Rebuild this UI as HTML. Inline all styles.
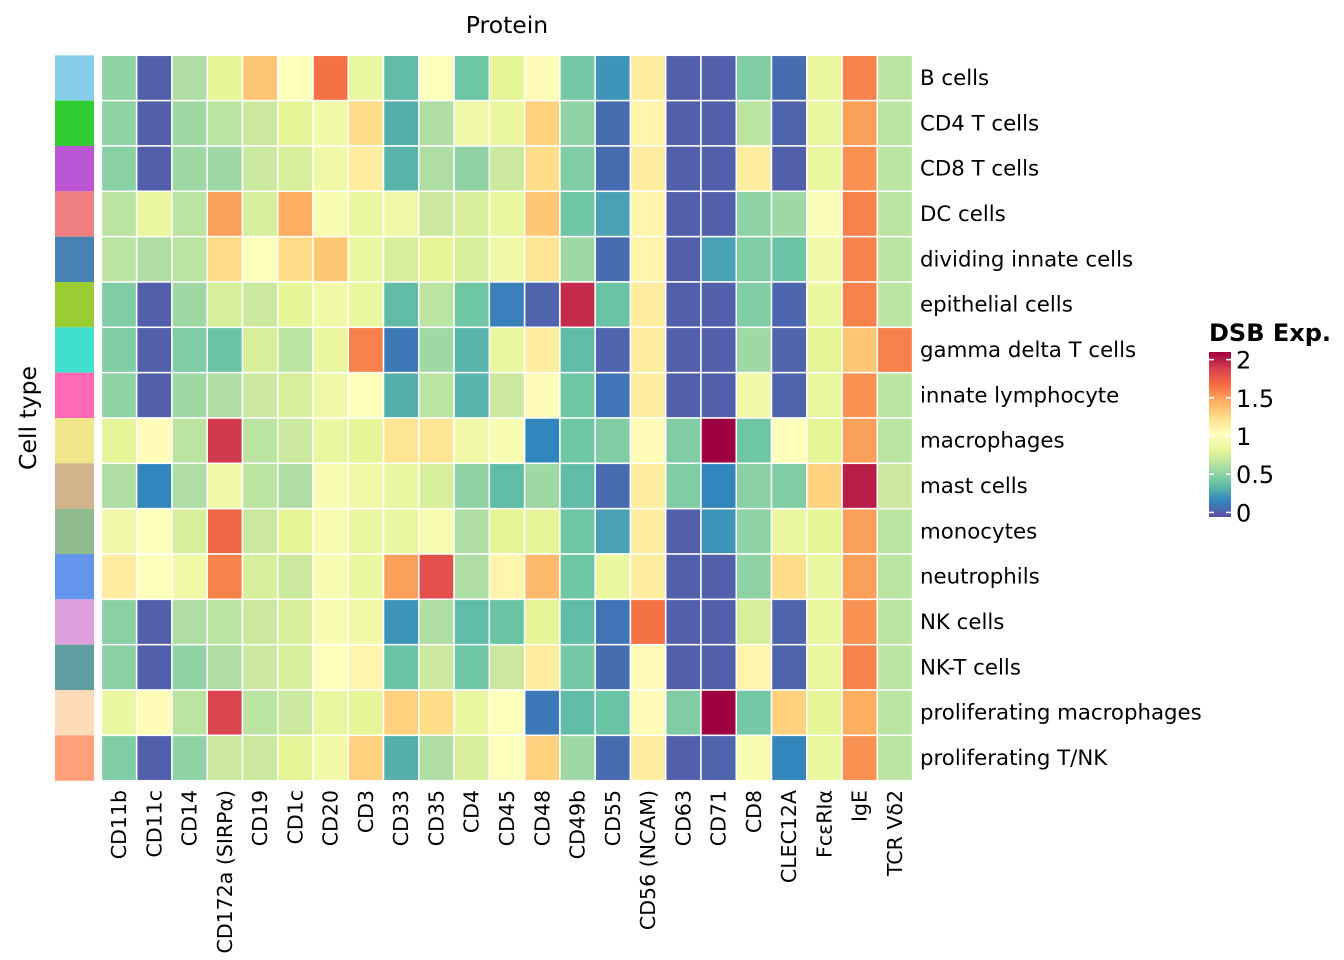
<!DOCTYPE html>
<html><head><meta charset="utf-8"><style>
html,body{margin:0;padding:0;background:#fff;}
svg{display:block;font-family:"DejaVu Sans","Liberation Sans",sans-serif;}
</style></head><body>
<svg id="chart" width="1344" height="960" viewBox="0 0 1344 960" xmlns="http://www.w3.org/2000/svg">
<defs><linearGradient id="grad" x1="0" y1="1" x2="0" y2="0"></linearGradient></defs>
<text x="507" y="33" font-size="23.5" text-anchor="middle">Protein</text>
<text transform="translate(36,418) rotate(-90)" font-size="23.5" text-anchor="middle">Cell type</text>
<g id="cells"></g>
<g id="strip"></g>
<g id="rowlabels"></g>
<g id="collabels"></g>
<g id="legend">
<text x="1209" y="341" font-size="24" font-weight="bold">DSB Exp.</text>
</g>
</svg>
<script>
const proteins=["CD11b","CD11c","CD14","CD172a (SIRPα)","CD19","CD1c","CD20","CD3","CD33","CD35","CD4","CD45","CD48","CD49b","CD55","CD56 (NCAM)","CD63","CD71","CD8","CLEC12A","FcεRIα","IgE","TCR Vδ2"];
const cellTypes=["B cells","CD4 T cells","CD8 T cells","DC cells","dividing innate cells","epithelial cells","gamma delta T cells","innate lymphocyte","macrophages","mast cells","monocytes","neutrophils","NK cells","NK-T cells","proliferating macrophages","proliferating T/NK"];
const typeColors=["#87CEEB","#32CD32","#BA55D3","#F08080","#4682B4","#9ACD32","#40E0D0","#FF69B4","#F0E68C","#D2B48C","#8FBC8F","#6495ED","#DDA0DD","#5F9EA0","#FFDAB9","#FFA07A"];
const values=[
[0.5,0,0.6,0.8,1.35,1.0,1.65,0.85,0.35,1.0,0.4,0.8,1.05,0.42,0.2,1.15,0,0,0.45,0.05,0.85,1.6,0.65],
[0.5,0,0.55,0.65,0.7,0.8,0.9,1.25,0.3,0.6,0.9,0.85,1.3,0.5,0.05,1.1,0,0,0.65,0.02,0.85,1.5,0.65],
[0.48,0,0.55,0.55,0.7,0.75,0.9,1.15,0.32,0.6,0.5,0.7,1.25,0.45,0.05,1.15,0,0,1.15,0,0.85,1.55,0.65],
[0.65,0.85,0.65,1.5,0.75,1.45,0.95,0.85,0.9,0.7,0.75,0.85,1.35,0.4,0.25,1.1,0,0,0.5,0.55,0.98,1.6,0.65],
[0.65,0.6,0.65,1.25,1.0,1.25,1.35,0.85,0.75,0.8,0.75,0.9,1.2,0.55,0.05,1.1,0,0.25,0.45,0.38,0.9,1.6,0.65],
[0.45,0,0.55,0.75,0.7,0.8,0.9,0.85,0.35,0.65,0.4,0.12,0.02,1.95,0.38,1.15,0,0,0.45,0.03,0.85,1.6,0.65],
[0.45,0,0.45,0.38,0.75,0.65,0.85,1.6,0.1,0.55,0.32,0.85,1.15,0.35,0.02,1.15,0,0,0.55,0.02,0.8,1.35,1.6],
[0.5,0,0.55,0.6,0.7,0.75,0.9,1.0,0.3,0.65,0.32,0.7,1.05,0.4,0.08,1.15,0,0,0.9,0.02,0.85,1.55,0.65],
[0.8,1.05,0.65,1.9,0.65,0.7,0.85,0.8,1.2,1.2,0.9,0.95,0.15,0.4,0.45,1.05,0.45,2.1,0.4,1.0,0.8,1.5,0.65],
[0.6,0.15,0.6,0.9,0.65,0.6,0.95,0.9,0.85,0.75,0.5,0.35,0.55,0.35,0.05,1.15,0.45,0.15,0.48,0.45,1.3,2.0,0.7],
[0.9,1.0,0.75,1.7,0.7,0.8,0.95,0.85,0.85,0.95,0.6,0.8,0.8,0.4,0.25,1.15,0,0.2,0.5,0.85,0.8,1.5,0.65],
[1.15,1.0,0.9,1.6,0.75,0.7,0.95,0.85,1.5,1.8,0.6,1.1,1.4,0.4,0.85,1.15,0,0,0.5,1.25,0.85,1.5,0.65],
[0.48,0,0.6,0.65,0.7,0.75,0.95,0.9,0.2,0.6,0.35,0.38,0.8,0.35,0.08,1.65,0,0,0.75,0.02,0.85,1.55,0.65],
[0.48,0,0.5,0.6,0.7,0.75,1.0,1.1,0.38,0.7,0.4,0.7,1.15,0.42,0.05,1.05,0,0,1.1,0.02,0.85,1.6,0.65],
[0.85,1.05,0.65,1.85,0.65,0.7,0.85,0.8,1.3,1.25,0.85,1.0,0.1,0.35,0.38,1.05,0.45,2.1,0.42,1.3,0.8,1.45,0.65],
[0.45,0,0.5,0.7,0.7,0.8,0.9,1.3,0.3,0.6,0.75,1.0,1.3,0.55,0.05,1.15,0,0.02,0.95,0.15,0.85,1.55,0.65]
];
const legendTicks=[0,0.5,1,1.5,2];
const legendTickLabels=["0","0.5","1","1.5","2"];

const NS="http://www.w3.org/2000/svg";
const spectral=["#5E4FA2","#3288BD","#66C2A5","#ABDDA4","#E6F598","#FFFFBF","#FEE08B","#FDAE61","#F46D43","#D53E4F","#9E0142"];
const vMin=-0.06, vMax=2.1;
function hex(c){return [parseInt(c.slice(1,3),16),parseInt(c.slice(3,5),16),parseInt(c.slice(5,7),16)];}
function color(v){let t=(v-vMin)/(vMax-vMin);t=Math.max(0,Math.min(1,t));const p=t*(spectral.length-1);const i=Math.min(Math.floor(p),spectral.length-2);const f=p-i;const a=hex(spectral[i]),b=hex(spectral[i+1]);return "rgb("+a.map((x,k)=>Math.round(x+(b[k]-x)*f)).join(",")+")";}
const x0=101.4,x1=912.6,y0=55.3,y1=780.7;
const cw=(x1-x0)/proteins.length, rh=(y1-y0)/cellTypes.length;
const xPos=j=>x0+j*cw, yPos=i=>y0+i*rh;
function mk(tag,attrs,parent){const e=document.createElementNS(NS,tag);for(const k in attrs)e.setAttribute(k,attrs[k]);parent.appendChild(e);return e;}
const cells=document.getElementById('cells');
values.forEach((row,i)=>row.forEach((v,j)=>{
  const r=mk('rect',{x:xPos(j),y:yPos(i),width:cw,height:rh,fill:color(v),stroke:"#fff","stroke-width":1.5},cells);
  
  
}));
const strip=document.getElementById('strip');
const rl=document.getElementById('rowlabels');
cellTypes.forEach((n,i)=>{
  const r=mk('rect',{x:55,y:yPos(i),width:39,height:rh,fill:typeColors[i]},strip);
  
  
  const t=mk('text',{x:920,y:yPos(i)+rh/2+7,"font-size":21.3},rl);
  t.textContent=n;
  
  
});
const cl=document.getElementById('collabels');
proteins.forEach((n,j)=>{
  const cx=xPos(j)+cw/2+7;
  const t=mk('text',{transform:"translate("+cx+",790) rotate(-90)","font-size":20.5,"text-anchor":"end"},cl);
  t.textContent=n;
  
  
});
const grad=document.getElementById('grad');
spectral.forEach((c,k)=>{mk('stop',{offset:(k/(spectral.length-1)),"stop-color":c},grad);});
const lg=document.getElementById('legend');
const lbTop=352,lbBot=517,lx=1209,lw=22;
const ly=v=>lbBot-(v-vMin)/(vMax-vMin)*(lbBot-lbTop);
const bar=mk('rect',{x:lx,y:lbTop,width:lw,height:lbBot-lbTop,fill:"url(#grad)"},lg);


legendTicks.forEach((v,k)=>{
  const y=ly(v);
  mk('line',{x1:lx,x2:lx+5,y1:y,y2:y,stroke:"#fff","stroke-width":1.5},lg);
  mk('line',{x1:lx+lw-5,x2:lx+lw,y1:y,y2:y,stroke:"#fff","stroke-width":1.5},lg);
  const t=mk('text',{x:lx+lw+5,y:y+9,"font-size":24},lg);
  t.textContent=legendTickLabels[k];
  
  
});
</script>
</body></html>
